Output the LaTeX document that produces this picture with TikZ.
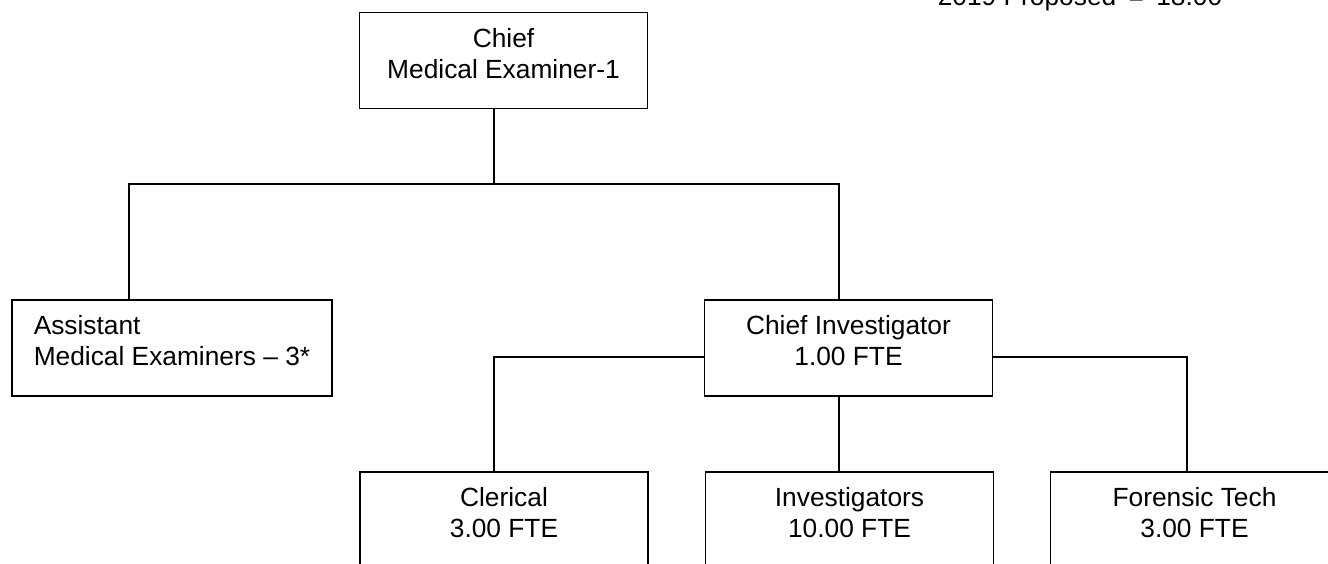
\documentclass[tikz,border=0pt]{standalone}
\usepackage{fontspec}
\setmainfont{Liberation Sans}
\usepackage{tikz}

\tikzset{
    box/.style={draw, line width=0.8pt, minimum width=288*0.456pt, minimum height=96*0.456pt,
        inner sep=0pt, align=center, text depth=6.6pt},
    wire/.style={line width=0.8pt}
}

\begin{document}
\begin{tikzpicture}[x=0.456pt, y=-0.456pt, font=\fontsize{12}{14}\selectfont]
        \useasboundingbox (0,0) rectangle (1328,563);
        \clip (0,0) rectangle (1328,563);

        \node[anchor=base east] (total) at (1230,5) {2019 Proposed \kern2.3pt= \kern2.3pt18.00};

        \node[box] (chief) at (503.5,60.5) {Chief\\Medical Examiner-1};
        \node[box, minimum width=320*0.456pt, align=left] (asst) at (172,348)
            {Assistant\\Medical Examiners -- 3*};
        \node[box] (ci) at (848.5,348) {Chief Investigator\\1.00 FTE};
        \node[box] (cler) at (504,520) {Clerical\\3.00 FTE};
        \node[box] (inv) at (849.5,520) {Investigators\\10.00 FTE};
        \node[box] (foren) at (1194.5,520) {Forensic Tech\\3.00 FTE};

        \coordinate (bus) at (494,184);
        \coordinate (busL) at (129,184);
        \coordinate (busR) at (839,184);
        \coordinate (ciL) at (494,357);
        \coordinate (ciR) at (1187,357);

        \draw[wire] (chief.south -| bus) -- (bus);
        \draw[wire] (asst.north -| busL) -- (busL) -- (busR) -- (ci.north -| busR);
        \draw[wire] (ci.west |- ciL) -- (ciL) -- (cler.north -| ciL);
        \draw[wire] (ci.east |- ciR) -- (ciR) -- (foren.north -| ciR);
        \draw[wire] (ci.south -| busR) -- (inv.north -| busR);
    \end{tikzpicture}
\end{document}
